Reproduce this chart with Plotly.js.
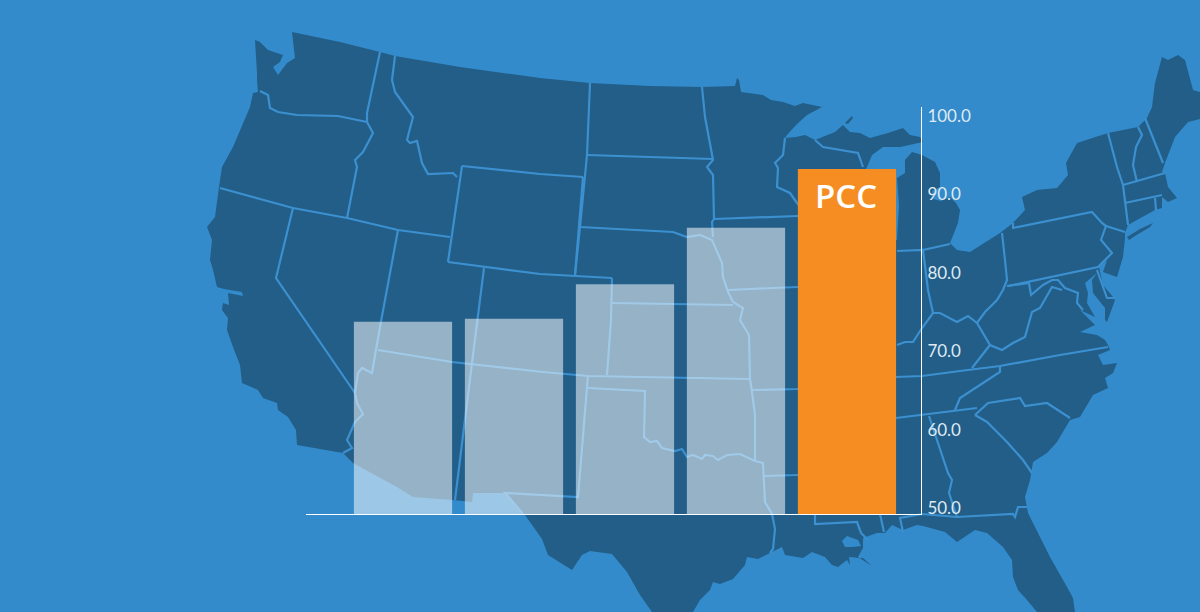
<!DOCTYPE html>
<html><head><meta charset="utf-8">
<script src="https://cdn.plot.ly/plotly-3.0.1.min.js"></script>
<style>html,body{margin:0;padding:0;background:#338bcb;overflow:hidden}</style>
</head><body><div id="chart" style="width:1200px;height:612px"></div>
<script>
const categories = ['1', '2', '3', '4', 'PCC'];
const values = [74.5, 74.9, 79.3, 86.5, 94.0];
const tickValues = [50, 60, 70, 80, 90, 100];
const tickLabels = ['50.0', '60.0', '70.0', '80.0', '90.0', '100.0'];
const barColors = ['rgba(255,255,255,0.52)','rgba(255,255,255,0.52)','rgba(255,255,255,0.52)','rgba(255,255,255,0.52)','#f58d22'];

// Background map: traced outline, page pixel coordinates
const landOutline = [[292,32],[340,42],[380,52],[395,56],[460,67],[540,78],[590,83],[650,86],[702,87],[735,86],[737,78],[739,80],[741,92],[763,95],[771,100],[783,102],[795,106],[803,103],[822,107],[807,115],[796,125],[787,135],[785,138],[796,137],[805,135],[815,140],[820,138],[835,132],[843,125],[850,132],[860,133],[870,138],[888,133],[903,128],[910,135],[920,137],[923,142],[900,147],[883,147],[872,155],[867,167],[857,185],[852,205],[850,230],[870,250],[897,240],[899,205],[897,178],[905,173],[905,160],[912,152],[922,155],[935,162],[940,173],[940,187],[932,191],[933,199],[941,201],[950,197],[956,203],[960,210],[958,223],[950,243],[957,250],[970,252],[1000,233],[1013,223],[1025,210],[1022,197],[1037,190],[1057,188],[1068,175],[1066,163],[1077,143],[1108,133],[1138,127],[1147,118],[1152,107],[1155,83],[1162,57],[1168,60],[1178,55],[1185,60],[1193,90],[1200,92],[1204,92],[1204,118],[1188,122],[1175,137],[1165,163],[1162,172],[1165,173],[1168,187],[1177,198],[1168,202],[1162,197],[1162,208],[1155,210],[1128,225],[1125,233],[1125,238],[1123,257],[1117,277],[1103,272],[1107,260],[1099,267],[1103,285],[1113,297],[1115,300],[1107,322],[1105,320],[1105,308],[1093,293],[1092,280],[1097,273],[1085,283],[1088,293],[1087,303],[1095,317],[1080,310],[1095,325],[1080,332],[1097,335],[1105,340],[1108,345],[1110,350],[1098,355],[1103,365],[1117,363],[1113,373],[1105,378],[1108,388],[1093,395],[1080,417],[1070,420],[1057,442],[1047,453],[1033,462],[1030,480],[1025,497],[1028,513],[1040,537],[1050,557],[1067,587],[1073,598],[1075,612],[1075,640],[1037,640],[1037,612],[1027,600],[1018,590],[1013,577],[1012,560],[1003,547],[987,533],[975,530],[957,542],[945,532],[923,526],[917,525],[903,530],[892,525],[885,533],[877,533],[863,538],[863,548],[858,557],[872,566],[863,558],[849,557],[850,565],[847,560],[838,567],[832,565],[825,557],[812,552],[803,558],[785,555],[782,547],[770,553],[758,559],[747,557],[745,565],[733,579],[720,584],[713,582],[710,590],[700,600],[693,612],[693,640],[652,640],[652,612],[640,595],[627,572],[612,554],[590,551],[582,555],[572,570],[548,555],[542,539],[525,515],[507,493],[473,493],[472,502],[453,500],[413,497],[397,487],[353,463],[343,453],[297,445],[296,430],[288,417],[278,410],[277,403],[263,398],[258,390],[242,383],[240,365],[233,347],[227,330],[228,318],[222,310],[223,303],[229,305],[228,293],[243,296],[242,292],[224,289],[217,287],[213,270],[210,260],[212,240],[207,227],[215,217],[219,187],[222,167],[233,147],[250,107],[253,93],[258,92],[257,80],[257,73],[255,40],[260,42],[268,50],[283,55],[280,62],[273,67],[278,75],[287,63],[295,58]];
const longIsland = [[1127,237],[1140,229],[1153,223],[1150,227],[1135,236],[1129,240]];
const isleRoyale = [[845,123],[852,116],[853,118],[848,124]];
const pontchartrain = [[842,541],[847,536],[858,540],[861,546],[852,547],[845,547]];
const borderLines = [
 [[380,52],[367,113],[367,122]],
 [[395,56],[392,80],[395,92],[413,117],[407,140],[410,143],[417,141],[422,163],[428,174],[453,173],[457,177]],
 [[260,91],[268,95],[270,108],[278,112],[297,115],[338,116],[367,122]],
 [[367,122],[373,133],[363,152],[355,160],[357,167],[347,218]],
 [[220,188],[293,208],[347,218],[398,230],[450,237]],
 [[293,208],[276,278],[355,393]],
 [[462,166],[448,262]],
 [[462,166],[540,174],[583,177]],
 [[448,262],[540,274],[612,278]],
 [[583,177],[575,275]],
 [[398,230],[380,327],[373,367],[372,373],[362,368],[358,373],[355,393],[357,403],[363,414],[355,422],[347,440],[352,448],[343,453]],
 [[484,268],[472,363],[455,500]],
 [[378,350],[452,362],[543,372],[588,376],[750,379]],
 [[612,278],[611,320],[607,375]],
 [[612,303],[733,305]],
 [[580,227],[673,232],[687,237],[700,235],[712,240],[722,263],[723,277],[728,292],[733,302],[743,308],[740,320],[749,335],[750,379]],
 [[587,155],[713,159]],
 [[590,83],[587,155],[580,227],[575,275]],
 [[702,87],[705,117],[708,133],[713,160],[707,167],[713,175],[714,219],[712,222],[713,237]],
 [[714,219],[798,216]],
 [[785,138],[783,155],[775,163],[778,168],[777,187],[790,193],[797,203],[815,225],[820,250]],
 [[815,140],[823,147],[858,153],[863,167]],
 [[728,290],[797,287],[850,285]],
 [[752,390],[797,389],[830,385],[860,378],[896,377],[922,376],[960,371],[1000,366],[1060,355],[1108,347]],
 [[588,376],[587,387],[578,497],[505,493],[523,514]],
 [[588,388],[645,391],[644,437],[650,442],[657,441],[662,448],[675,451],[682,449],[687,457],[693,455],[702,459],[705,455],[713,456],[718,460],[727,455],[740,454],[755,461],[763,463],[765,502],[772,514],[775,529],[773,549],[770,553]],
 [[750,379],[752,392],[755,415],[755,461]],
 [[763,476],[798,475]],
 [[815,514],[815,524],[857,522],[861,533],[868,540]],
 [[880,514],[884,532]],
 [[923,250],[950,244]],
 [[897,251],[923,250],[928,290],[933,313]],
 [[897,345],[905,342],[913,342],[922,328],[933,313],[940,313],[957,322],[968,316],[977,323],[985,312],[997,300],[1003,290],[1007,280],[1005,260],[1002,233]],
 [[1013,223],[1013,228],[1092,212],[1102,223],[1106,226],[1101,240],[1112,253],[1098,267],[1008,286]],
 [[1106,226],[1125,232]],
 [[1108,133],[1117,167],[1123,185],[1128,225]],
 [[1138,127],[1142,135],[1136,147],[1133,165],[1137,182]],
 [[1145,118],[1163,163]],
 [[1123,185],[1165,173]],
 [[1125,203],[1162,195]],
 [[1155,198],[1156,210]],
 [[1097,270],[1107,298],[1115,298]],
 [[1007,286],[1029,283],[1031,295],[1043,285],[1052,280],[1058,280],[1065,288],[1078,293],[1077,303],[1083,310]],
 [[1052,287],[1062,290],[1052,287],[1040,308],[1032,312],[1025,337],[1013,343],[1002,350],[990,345],[977,323]],
 [[990,345],[972,368]],
 [[1000,366],[1000,372],[983,383],[960,398],[955,410]],
 [[896,418],[977,408]],
 [[975,415],[988,403],[1020,398],[1025,406],[1047,403],[1070,418]],
 [[975,415],[987,422],[1007,442],[1023,460],[1032,473]],
 [[929,416],[948,473],[952,480],[949,493],[957,517]],
 [[903,532],[900,518],[922,514],[957,517],[1013,514],[1015,517],[1018,507],[1027,507]]
];

const plotL = 306, plotR = 921, plotT = 107, plotB = 514;
const px = x => (x - plotL) / (plotR - plotL);
const py = y => 1 - (y - plotT) / (plotB - plotT);
const toPath = (pts, close) => pts.map((p, i) => (i ? 'L' : 'M') + px(p[0]).toFixed(5) + ',' + py(p[1]).toFixed(5)).join(' ') + (close ? ' Z' : '');
const mapShape = (path, extra) => Object.assign({type:'path', xref:'paper', yref:'paper', layer:'below', path}, extra);
const landColor = '#225e88', borderColor = '#3c90cf', bgColor = '#338bcb';

const shapes = [
 mapShape(toPath(landOutline, true) + ' ' + toPath(longIsland, true) + ' ' + toPath(isleRoyale, true), {fillcolor:landColor, line:{width:0}}),
 mapShape(toPath(pontchartrain, true), {fillcolor:bgColor, line:{width:0}})
].concat(borderLines.map(l => mapShape(toPath(l, false), {line:{color:borderColor, width:2.2}})));

const trace = {type:'bar', x:categories, y:values, base:0, width:0.885,
  marker:{color:barColors, line:{width:0}}, hoverinfo:'skip'};

Plotly.newPlot('chart', [trace], {
  width:1200, height:612, showlegend:false,
  margin:{l:plotL, r:1200-plotR, t:plotT, b:612-plotB, pad:0},
  paper_bgcolor:bgColor, plot_bgcolor:'rgba(0,0,0,0)',
  font:{family:'Lato, "Open Sans", sans-serif', color:'#dfeaf4'},
  xaxis:{type:'category', range:[-0.874,4.667], showticklabels:false, ticks:'', showgrid:false, zeroline:false,
    showline:true, linecolor:'#ffffff', linewidth:1},
  yaxis:{side:'right', range:[50,101.9], tickmode:'array', tickvals:tickValues, ticktext:tickLabels, ticks:'', showgrid:false, zeroline:false,
    showline:true, linecolor:'#ffffff', linewidth:1, tickfont:{size:17, color:'#dfeaf4', family:'Lato, "Open Sans", sans-serif'},
    ticklabelshift:-6, ticklabelstandoff:2},
  shapes,
  annotations:[{xref:'x', yref:'y', x:categories[4], y:values[4], yshift:-27, xshift:-1, yanchor:'middle', showarrow:false,
    text:categories[4], font:{family:'"Open Sans", sans-serif', size:33, color:'#ffffff', weight:600}}]
}, {displayModeBar:false, staticPlot:true});
</script></body></html>
